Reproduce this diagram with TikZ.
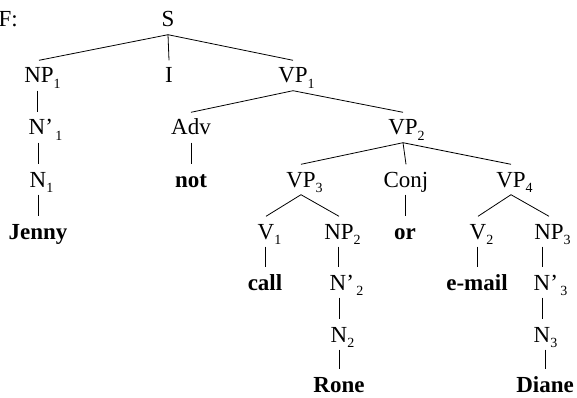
\documentclass[tikz,border=0pt]{standalone}
\usepackage{fontspec}
\setmainfont{Liberation Serif}
\usetikzlibrary{calc}
\newcommand{\sbx}[1]{\rlap{\raisebox{-5.5pt}{\fontsize{14}{14}\selectfont #1}}}
\newcommand{\prx}[1]{\rlap{’\kern2.5pt\raisebox{-5.5pt}{\fontsize{14}{14}\selectfont #1}}}
\begin{document}
\begin{tikzpicture}[x=1pt,y=-1pt,
  lbl/.style={inner sep=0pt, anchor=base, text height=15pt, text depth=0pt, font=\fontsize{23}{27}\selectfont},
  wrd/.style={lbl, font=\fontsize{23}{27}\selectfont\bfseries},
  edge/.style={line width=0.8pt}]
\useasboundingbox (0,0) rectangle (577,398);
% row 1
\node[lbl, anchor=base west] (F) at (-1.5,27) {F:};
\node[lbl] (S) at (168,27) {S};
% row 2
\node[lbl] (NPa) at (39,83) {NP\sbx{1}};
\node[lbl] (I) at (169,83) {I};
\node[lbl] (VPa) at (293,83) {VP\sbx{1}};
% row 3
\node[lbl] (Npa) at (37,135) {N\prx{1}};
\node[lbl] (Adv) at (191,135) {Adv};
\node[lbl] (VPb) at (403,135) {VP\sbx{2}};
% row 4
\node[lbl] (Na) at (38,187) {N\sbx{1}};
\node[wrd] (not) at (191,187) {not};
\node[lbl] (VPc) at (301,187) {VP\sbx{3}};
\node[lbl] (Conj) at (406,187) {Conj};
\node[lbl] (VPd) at (511,187) {VP\sbx{4}};
% row 5
\node[wrd] (jenny) at (38,239) {Jenny};
\node[lbl] (Va) at (266,239) {V\sbx{1}};
\node[lbl] (NPb) at (339,239) {NP\sbx{2}};
\node[wrd] (or) at (405,239) {or};
\node[lbl] (Vb) at (478,239) {V\sbx{2}};
\node[lbl] (NPc) at (549,239) {NP\sbx{3}};
% row 6
\node[wrd] (call) at (265,290) {call};
\node[lbl] (Npb) at (338,290) {N\prx{2}};
\node[wrd] (email) at (477,290) {e-mail};
\node[lbl] (Npc) at (542,290) {N\prx{3}};
% row 7
\node[lbl] (Nb) at (339,342) {N\sbx{2}};
\node[lbl] (Nc) at (542,342) {N\sbx{3}};
% row 8
\node[wrd] (rone) at (339,392) {Rone};
\node[wrd] (diane) at (545,392) {Diane};
% branching edges
\foreach \a/\b in {S/NPa, S/I, S/VPa, VPa/Adv, VPa/VPb, VPb/VPc, VPb/Conj, VPb/VPd, VPc/Va, VPc/NPb, VPd/Vb, VPd/NPc}
  \draw[edge] ($(\a.south)+(0,7.5)$) -- ($(\b.north)+(0,-7.5)$);
% vertical edges
\foreach \a/\b in {NPa/Npa, Npa/Na, Na/jenny, Adv/not, Conj/or, Va/call, NPb/Npb, Npb/Nb, Nb/rone, Vb/email, NPc/Npc, Npc/Nc, Nc/diane}
  \draw[edge] ($(\b.north |- \a.south)+(0,7.5)$) -- ($(\b.north)+(0,-7.5)$);
\end{tikzpicture}
\end{document}
